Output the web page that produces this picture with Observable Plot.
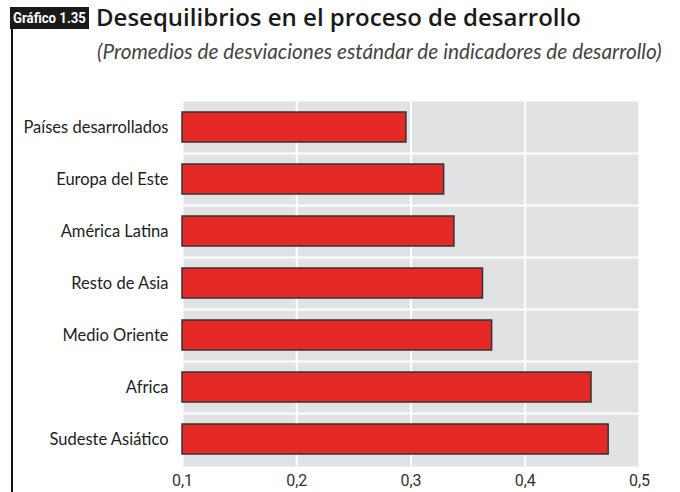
<!DOCTYPE html>
<html><head><meta charset="utf-8">
<script src="https://cdn.jsdelivr.net/npm/d3@7"></script>
<script src="https://cdn.jsdelivr.net/npm/@observablehq/plot@0.6"></script>
<style>
body{margin:0;background:#fff;}
#wrap{position:relative;width:680px;height:492px;overflow:hidden;}
#tag{position:absolute;left:10px;top:7px;width:79px;height:22px;background:#1a1a1a;overflow:hidden;}
#tag span{position:absolute;left:3px;top:0;color:#fff;font:bold 15px Roboto,sans-serif;line-height:22px;white-space:nowrap;transform:scaleX(0.88);transform-origin:0 50%;}
#vline{position:absolute;left:11px;top:29px;width:2px;height:470px;background:#111;}
#title{position:absolute;left:96px;top:0px;font:600 24px "Open Sans",Lato,sans-serif;color:#1a1a1a;white-space:nowrap;}
#sub{position:absolute;left:97px;top:38px;font:italic 20.8px Lato,"Open Sans",sans-serif;color:#444;white-space:nowrap;}
#chart{position:absolute;left:0;top:80px;}
</style></head><body>
<div id="wrap">
<div id="tag"><span>Gráfico 1.35</span></div>
<div id="vline"></div>
<div id="title">Desequilibrios en el proceso de desarrollo</div>
<div id="sub">(Promedios de desviaciones estándar de indicadores de desarrollo)</div>
<div id="chart"></div>
</div>
<script>
const regions = ["Países desarrollados","Europa del Este","América Latina","Resto de Asia","Medio Oriente","Africa","Sudeste Asiático"];
const values = [0.296, 0.329, 0.338, 0.363, 0.371, 0.458, 0.473];
const xTicks = [0.1, 0.2, 0.3, 0.4, 0.5];
const data = regions.map((r,i)=>({region:r, value:values[i]}));
const step = 365/(7 - 0.42 + 2*0.21);
const fmt = d => d.toFixed(1).replace(".", ",");
const plot = Plot.plot({
  width: 680, height: 412,
  marginLeft: 182, marginRight: 41, marginTop: 21, marginBottom: 26,
  style: {fontFamily: "Lato, 'Open Sans', sans-serif", background: "transparent"},
  x: {domain: [0.1, 0.5], ticks: xTicks, tickFormat: fmt, label: null},
  y: {domain: regions, paddingInner: 0.42, paddingOuter: 0.21, label: null},
  marks: [
    Plot.frame({fill: "#e1e2e4", stroke: null}),
    Plot.gridX(xTicks, {stroke: "#fff", strokeOpacity: 1, strokeWidth: 2}),
    Plot.ruleY(regions.slice(1), {stroke: "#fff", strokeWidth: 2, dy: -step/2}),
    Plot.barX(data, {x1: 0.1, x2: "value", y: "region", fill: "#e52927", stroke: "#333", strokeWidth: 1.5}),
    Plot.axisX({ticks: xTicks, tickFormat: fmt, tickSize: 0, tickPadding: 8, fontSize: 16, fill: "#333", fontFamily: "Roboto, sans-serif"}),
    Plot.axisY({tickSize: 0, tickPadding: 14, fontSize: 16.5, fill: "#222"})
  ]
});
document.getElementById("chart").appendChild(plot);
</script>
</body></html>
